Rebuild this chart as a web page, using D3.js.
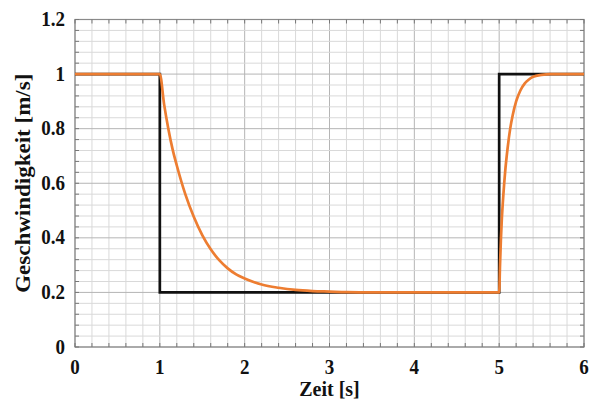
<!DOCTYPE html>
<html>
<head>
<meta charset="utf-8">
<script src="https://cdn.jsdelivr.net/npm/d3@7"></script>
<style>
  html, body { margin: 0; padding: 0; background: #fff; }
  svg { display: block; }
</style>
</head>
<body>
<svg id="chart" width="595" height="406"></svg>
<script>
// Sollwert (Sprungfolge) der Geschwindigkeit
const sollZeit = [0, 1, 1, 5, 5, 6];
const sollWert = [1, 1, 0.2, 0.2, 1, 1];

// Istwert der Geschwindigkeit (verzögerte Antwort)
const istZeit = [0, 1, 1.05, 1.1, 1.15, 1.2, 1.3, 1.4, 1.5, 1.6, 1.7, 1.8, 1.9, 2.0,
  2.2, 2.4, 2.6, 2.8, 3.0, 3.2, 3.5, 4.0, 5.0,
  5.01, 5.02, 5.03, 5.05, 5.07, 5.1, 5.13, 5.16, 5.2, 5.25, 5.3, 5.35, 5.4, 5.5, 5.6, 6.0];
const istWert = [1, 1, 0.89, 0.80, 0.725, 0.665, 0.56, 0.477, 0.41, 0.358, 0.318, 0.288, 0.266, 0.251,
  0.229, 0.217, 0.209, 0.205, 0.203, 0.201, 0.2, 0.2, 0.2,
  0.3, 0.39, 0.46, 0.56, 0.64, 0.73, 0.80, 0.85, 0.9, 0.94, 0.965, 0.98, 0.99, 0.997, 1, 1];

// Achsenbeschriftungen
const xTicks = [0, 1, 2, 3, 4, 5, 6];
const yTicks = [0, 0.2, 0.4, 0.6, 0.8, 1, 1.2];
const xTitel = "Zeit [s]";
const yTitel = "Geschwindigkeit [m/s]";

const FONT = '"Liberation Serif", "Times New Roman", "DejaVu Serif", serif';

const svg = d3.select("#chart");
const pl = 75, pr = 584, pt = 19.5, pb = 347;

const x = d3.scaleLinear().domain([0, 6]).range([pl, pr]);
const y = d3.scaleLinear().domain([0, 1.2]).range([pb, pt]);

const g = svg.append("g");

// Gitter: fein und grob
const xFine = d3.range(0, 6.0001, 0.2);
const yFine = d3.range(0, 1.2001, 0.04);
const isMajorX = v => Math.abs(v - Math.round(v)) < 1e-6;
const isMajorY = v => Math.abs(v / 0.2 - Math.round(v / 0.2)) < 1e-6;

g.selectAll("line.vx").data(xFine).join("line")
  .attr("x1", d => x(d)).attr("x2", d => x(d))
  .attr("y1", pt).attr("y2", pb)
  .attr("stroke", d => isMajorX(d) ? "#b5b5b5" : "#d9d9d9")
  .attr("stroke-width", 1);

g.selectAll("line.hy").data(yFine).join("line")
  .attr("y1", d => y(d)).attr("y2", d => y(d))
  .attr("x1", pl).attr("x2", pr)
  .attr("stroke", d => isMajorY(d) ? "#b5b5b5" : "#d9d9d9")
  .attr("stroke-width", 1);

// Rahmen
g.append("rect")
  .attr("x", pl).attr("y", pt)
  .attr("width", pr - pl).attr("height", pb - pt)
  .attr("fill", "none").attr("stroke", "#8a8a8a").attr("stroke-width", 1.2);

// Innenliegende Teilstriche
const tick = 4;
const ticks = g.append("g").attr("stroke", "#777").attr("stroke-width", 1);
xFine.forEach(v => {
  ticks.append("line").attr("x1", x(v)).attr("x2", x(v)).attr("y1", pb).attr("y2", pb - tick);
  ticks.append("line").attr("x1", x(v)).attr("x2", x(v)).attr("y1", pt).attr("y2", pt + tick);
});
yFine.forEach(v => {
  ticks.append("line").attr("y1", y(v)).attr("y2", y(v)).attr("x1", pl).attr("x2", pl + tick);
  ticks.append("line").attr("y1", y(v)).attr("y2", y(v)).attr("x1", pr).attr("x2", pr - tick);
});

// Kurven
const line = d3.line().x(d => x(d[0])).y(d => y(d[1]));
g.append("path")
  .datum(d3.zip(sollZeit, sollWert))
  .attr("d", line).attr("fill", "none")
  .attr("stroke", "#111").attr("stroke-width", 2.7)
  .attr("stroke-linejoin", "miter");

g.append("path")
  .datum(d3.zip(istZeit, istWert))
  .attr("d", d3.line().curve(d3.curveMonotoneX).x(d => x(d[0])).y(d => y(d[1])))
  .attr("fill", "none")
  .attr("stroke", "#ED7D31").attr("stroke-width", 2.7)
  .attr("stroke-linejoin", "round");

// Schrift leicht hochgestreckt
const STRETCH = 1.08;
function label(sel) {
  return sel.attr("font-family", FONT).attr("font-weight", "bold").attr("fill", "#111");
}

// Tick-Beschriftungen
g.selectAll("text.xt").data(xTicks).join("text")
  .call(label)
  .attr("transform", d => `translate(${x(d)},374) scale(1,${STRETCH})`)
  .attr("text-anchor", "middle")
  .attr("font-size", 19)
  .text(d => d);

g.selectAll("text.yt").data(yTicks).join("text")
  .call(label)
  .attr("transform", d => `translate(65,${y(d) + 6.5}) scale(1,${STRETCH})`)
  .attr("text-anchor", "end")
  .attr("font-size", 19)
  .text(d => d);

// Achsentitel
g.append("text")
  .call(label)
  .attr("transform", `translate(${(pl + pr) / 2},396) scale(1,${STRETCH})`)
  .attr("text-anchor", "middle").attr("font-size", 20)
  .text(xTitel);

g.append("text")
  .call(label)
  .attr("transform", `translate(30,${(pt + pb) / 2}) rotate(-90) scale(1.15,1)`)
  .attr("text-anchor", "middle").attr("font-size", 20)
  .text(yTitel);
</script>
</body>
</html>
